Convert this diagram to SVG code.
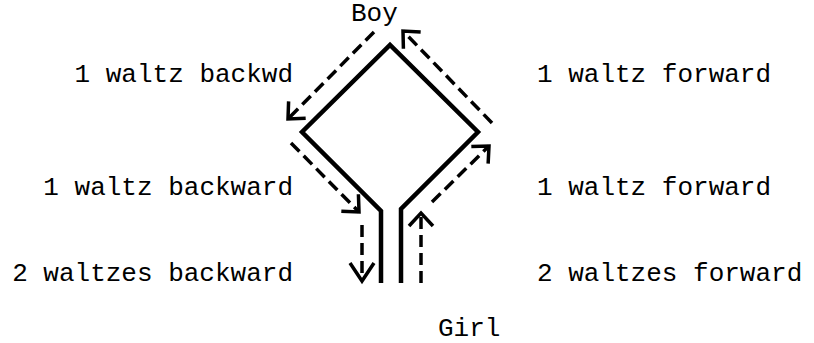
<svg xmlns="http://www.w3.org/2000/svg" width="814" height="343" viewBox="0 0 814 343">
<style>
  .lbl { font-family: "Liberation Mono", "Courier New", monospace; font-size: 26px; fill: #000; }
  .path { fill: none; stroke: #000; stroke-width: 4.5; stroke-linejoin: miter; }
  .move { fill: none; stroke: #000; stroke-width: 3.5; stroke-dasharray: 12 6; marker-end: url(#head); }
  .move.big { marker-end: url(#headBig); }
</style>
<defs>
  <marker id="head" markerUnits="userSpaceOnUse" orient="auto" refX="0" refY="0" markerWidth="30" markerHeight="30" viewBox="-20 -15 25 30" overflow="visible">
    <path d="M -13 -12 L 0 0 L -13 12" fill="none" stroke="#000" stroke-width="3.5" stroke-linejoin="miter"/>
  </marker>
  <marker id="headBig" markerUnits="userSpaceOnUse" orient="auto" refX="0" refY="0" markerWidth="30" markerHeight="30" viewBox="-20 -15 25 30" overflow="visible">
    <path d="M -18 -12 L 0 0 L -18 12" fill="none" stroke="#000" stroke-width="3.5" stroke-linejoin="miter"/>
  </marker>
</defs>
<rect width="814" height="343" fill="#fff"/>
<g id="dance-path">
  <polyline class="path" points="381,283 381,211 302,132 390,45 478,132 401,209 401,283"/>
</g>
<g id="connectors">
  <line class="move" x1="374" y1="32" x2="288" y2="119"/>
  <line class="move" x1="492" y1="123" x2="403" y2="31"/>
  <line class="move" x1="291" y1="143" x2="359" y2="212"/>
  <line class="move big" x1="362" y1="225" x2="362" y2="281"/>
  <line class="move" x1="421" y1="283" x2="421" y2="213"/>
  <line class="move" x1="432" y1="202" x2="489" y2="146"/>
</g>
<g id="boy"><text class="lbl" x="351" y="21">Boy</text></g>
<g id="girl"><text class="lbl" x="438" y="336">Girl</text></g>
<g id="label-backwd"><text class="lbl" x="293" y="82" text-anchor="end">1 waltz backwd</text></g>
<g id="label-forward-top"><text class="lbl" x="537" y="82">1 waltz forward</text></g>
<g id="label-backward"><text class="lbl" x="293" y="195" text-anchor="end">1 waltz backward</text></g>
<g id="label-forward-mid"><text class="lbl" x="537" y="195">1 waltz forward</text></g>
<g id="label-2back"><text class="lbl" x="293" y="281" text-anchor="end">2 waltzes backward</text></g>
<g id="label-2fwd"><text class="lbl" x="537" y="281">2 waltzes forward</text></g>
</svg>
